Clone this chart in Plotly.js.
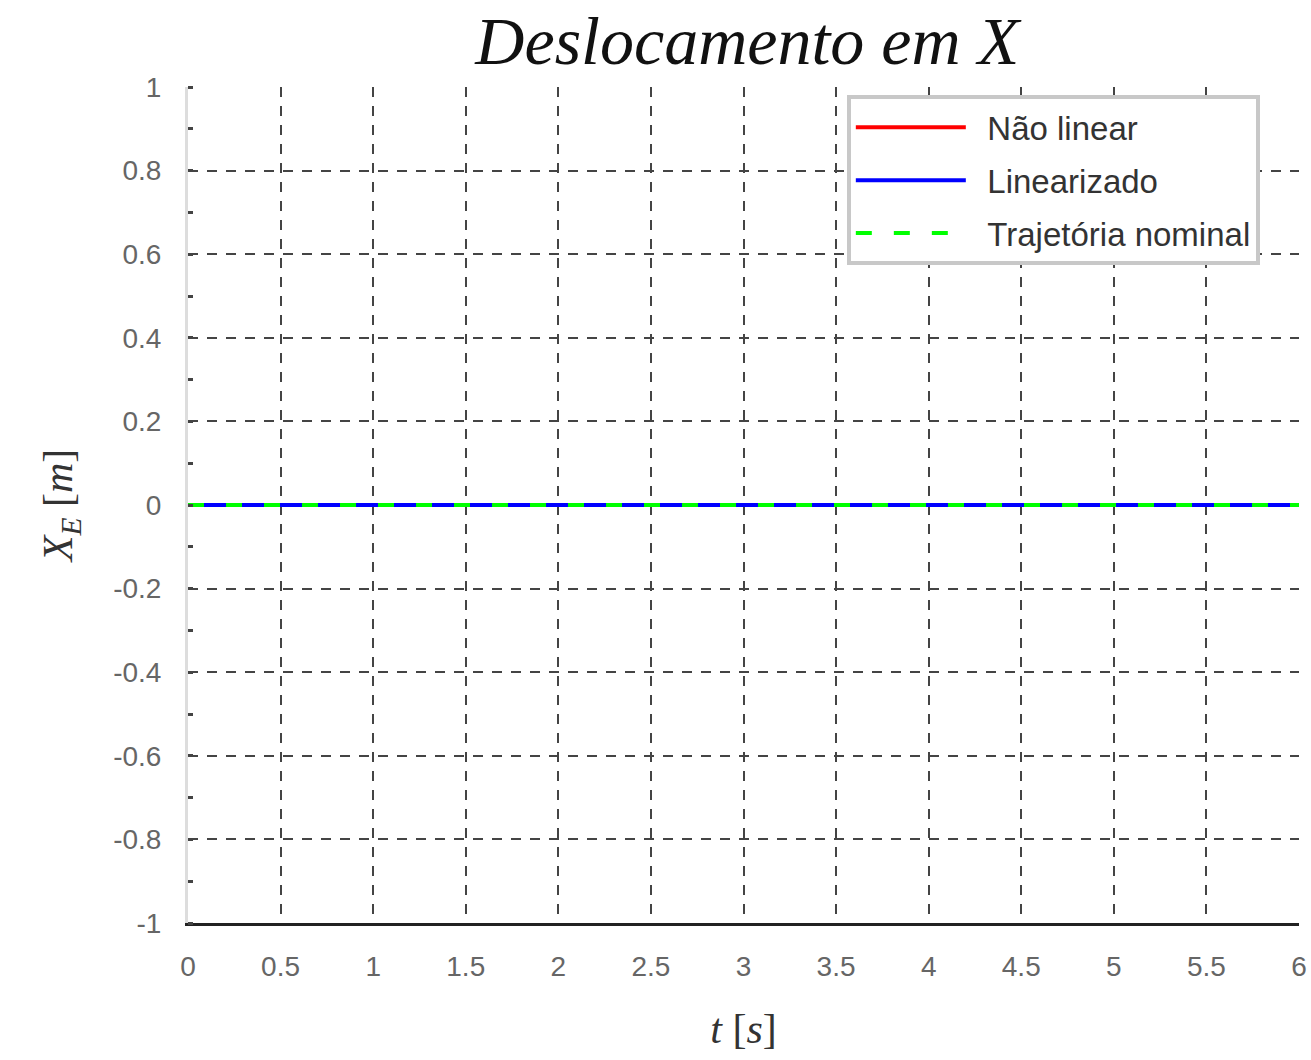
<!DOCTYPE html>
<html>
<head>
<meta charset="utf-8">
<script src="https://cdn.plot.ly/plotly-3.0.1.min.js"></script>
<style>html,body{margin:0;padding:0;background:#fff;}#chart{width:1311px;height:1060px;}</style>
</head>
<body>
<div id="chart"></div>
<script>
// Data
const tempo = [0, 1, 2, 3, 4, 5, 6];
const naoLinear = [0, 0, 0, 0, 0, 0, 0];
const linearizado = [0, 0, 0, 0, 0, 0, 0];
const trajetoriaNominal = [0, 0, 0, 0, 0, 0, 0];
const serieNomes = ["Não linear", "Linearizado", "Trajetória nominal"];
const xTicks = [0, 0.5, 1, 1.5, 2, 2.5, 3, 3.5, 4, 4.5, 5, 5.5, 6];
const yTicks = [-1, -0.8, -0.6, -0.4, -0.2, 0, 0.2, 0.4, 0.6, 0.8, 1];

const pad = '\u2002';
const traces = [
  {x: tempo, y: naoLinear, name: pad + serieNomes[0], legendgroup: 'a', mode: 'lines', line: {color: '#ff0000', width: 4}},
  {x: tempo, y: linearizado, name: pad + serieNomes[1], legendgroup: 'b', mode: 'lines', line: {color: '#0000ff', width: 4}},
  {x: tempo, y: trajetoriaNominal, name: pad + serieNomes[2], legendgroup: 'c', mode: 'lines', line: {color: '#00ff00', width: 4, dash: '16px,22px'}}
];

const tickFont = {family: 'Liberation Sans, Arial, sans-serif', size: 28, color: '#666'};

const layout = {
  width: 1311, height: 1060,
  paper_bgcolor: '#fff', plot_bgcolor: '#fff',
  margin: {l: 188, r: 12, t: 87, b: 137},
  showlegend: true,
  title: {
    text: 'Deslocamento em X',
    font: {family: 'Liberation Serif, serif', size: 68, color: '#111', style: 'italic'},
    x: 0.570, xanchor: 'center', y: 0.962, yanchor: 'middle'
  },
  xaxis: {
    range: [0, 6], tickvals: xTicks, ticktext: xTicks.map(String),
    showgrid: true, gridcolor: '#444', gridwidth: 2, griddash: '10px,9px',
    showline: true, linecolor: '#222', linewidth: 3,
    zeroline: false, ticks: '', tickfont: tickFont, ticklabelstandoff: 16,
    title: {text: '<i>t</i> [<i>s</i>]', font: {family: 'Liberation Serif, serif', size: 42, color: '#333'}, standoff: 34}
  },
  yaxis: {
    range: [-1, 1], tickvals: yTicks, ticktext: yTicks.map(String),
    showgrid: true, gridcolor: '#444', gridwidth: 2, griddash: '10px,9px',
    showline: true, linecolor: '#ddd', linewidth: 3,
    zeroline: false, ticks: '', tickfont: tickFont, ticklabelstandoff: 18,
    minor: {dtick: 0.1, ticks: 'inside', ticklen: 5, tickwidth: 3, tickcolor: '#444', showgrid: false},
    title: {text: '<i>X<sub>E</sub></i> [<i>m</i>]', font: {family: 'Liberation Serif, serif', size: 42, color: '#333'}, standoff: 28}
  },
  legend: {
    x: 0.593, y: 0.990, xanchor: 'left', yanchor: 'top',
    bgcolor: '#fff', bordercolor: '#c8c8c8', borderwidth: 4,
    font: {family: 'Liberation Sans, Arial, sans-serif', size: 33, color: '#333'},
    itemwidth: 110, tracegroupgap: 7
  }
};

Plotly.newPlot('chart', traces, layout, {displayModeBar: false, staticPlot: true});
</script>
</body>
</html>
